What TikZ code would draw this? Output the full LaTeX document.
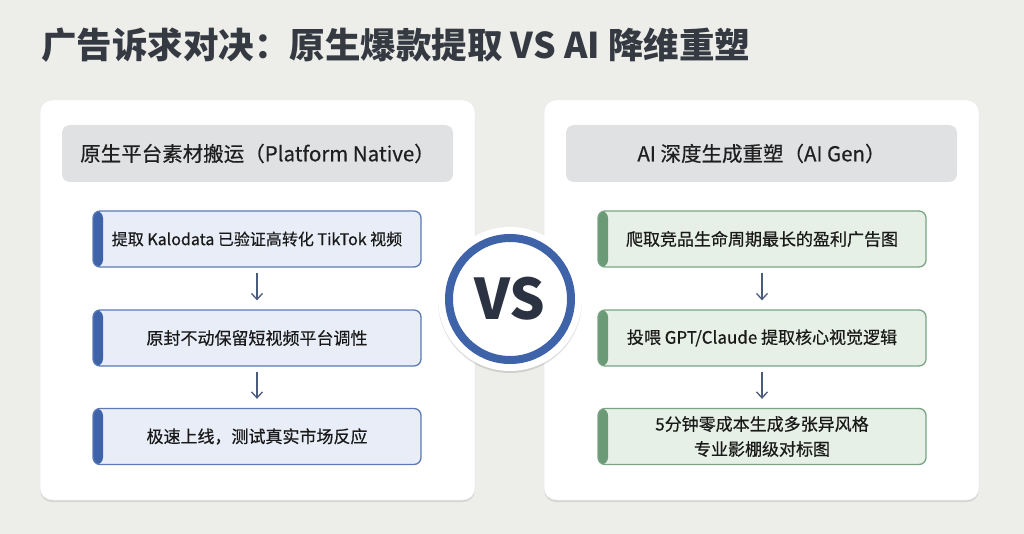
\documentclass[tikz,border=0pt]{standalone}
\usepackage{fontspec}
\setmainfont{Noto Sans CJK SC}
\newfontfamily\moyen[FakeBold=0.5]{Noto Sans CJK SC}
\usetikzlibrary{positioning,shadows,arrows.meta}
\definecolor{fond}{HTML}{EDEDE9}
\definecolor{titre}{HTML}{353A42}
\definecolor{entete}{HTML}{E0E1E3}
\definecolor{bleu}{HTML}{3F63A8}
\definecolor{bleuclair}{HTML}{E8EDF7}
\definecolor{vert}{HTML}{6B9A76}
\definecolor{vertclair}{HTML}{E7F0E6}
\definecolor{fleche}{HTML}{4B5B7A}
\definecolor{marine}{HTML}{2B3241}
\tikzset{
    carte/.style={fill=white, draw=black!8, line width=0.5pt, rounded corners=12pt,
      minimum width=435pt, minimum height=400pt,
      drop shadow={shadow xshift=0pt, shadow yshift=-2pt, opacity=0.10, fill=black}},
    bandeau/.style={fill=entete, rounded corners=8pt, minimum width=391pt, minimum height=57pt,
      font=\moyen\fontsize{20.5}{25}\selectfont, text=black!88},
    etape/.style={rounded corners=7pt, line width=1.3pt, minimum width=328pt, minimum height=56pt,
      align=center, font=\moyen\fontsize{17}{25}\selectfont, text=black!90,
      path picture={\fill[#1] (path picture bounding box.north west) rectangle ([xshift=10pt]path picture bounding box.south west);}},
    etapeg/.style={etape=bleu, fill=bleuclair, draw=bleu!85},
    etaped/.style={etape=vert, fill=vertclair, draw=vert!90},
    lien/.style={draw=fleche, line width=1.3pt, -{Straight Barb[length=6pt,width=11pt]}, shorten <=5pt, shorten >=9pt},
  }
\begin{document}
\begin{tikzpicture}[x=1pt,y=-1pt]
				  %FOND
				  \fill[fond] (0,0) rectangle (1024,534);
				  \useasboundingbox (0,0) rectangle (1024,534);
				  
				  %TITRE
				  \node[anchor=west, inner sep=0pt, text=titre, font=\fontsize{35.5}{40}\selectfont\bfseries] (T) at (41,45) {广告诉求对决：原生爆款提取 VS AI 降维重塑};
				  
				  %CARTES
				  \node[carte] (CG) at (257.5,300) {};
				  \node[carte] (CD) at (761.5,300) {};
				  \node[bandeau] (EG) at (257.5,153.5) {原生平台素材搬运（Platform Native）};
				  \node[bandeau] (ED) at (761.5,153.5) {AI 深度生成重塑（AI Gen）};
				  
				  %GAUCHE
				  \node[etapeg, font=\moyen\fontsize{16}{25}\selectfont] (G1) at (257,239) {提取 Kalodata 已验证高转化 TikTok 视频};
				  \node[etapeg] (G2) at (257,338) {原封不动保留短视频平台调性};
				  \node[etapeg] (G3) at (257,436.5) {极速上线，测试真实市场反应};
				  
				  %DROITE
				  \node[etaped] (D1) at (762,239) {爬取竞品生命周期最长的盈利广告图};
				  \node[etaped] (D2) at (762,338) {投喂 GPT/Claude 提取核心视觉逻辑};
				  \node[etaped] (D3) at (762,436.5) {5分钟零成本生成多张异风格\\专业影棚级对标图};
				  
				  %FLECHES
				  \foreach \a/\b in {G1/G2,G2/G3,D1/D2,D2/D3}
				    \draw[lien] (\a) -- (\b);
				  
				  %VS
				  \node[circle, fill=white, minimum size=144pt, drop shadow={shadow xshift=0pt, shadow yshift=-2pt, opacity=0.12, fill=black}] (VS) at (510,299) {};
				  \draw[bleu, line width=8pt] (VS.center) circle (61pt);
				  \node[text=marine, font=\fontsize{56}{60}\selectfont\bfseries] at (VS.center) {VS};
\end{tikzpicture}
\end{document}
